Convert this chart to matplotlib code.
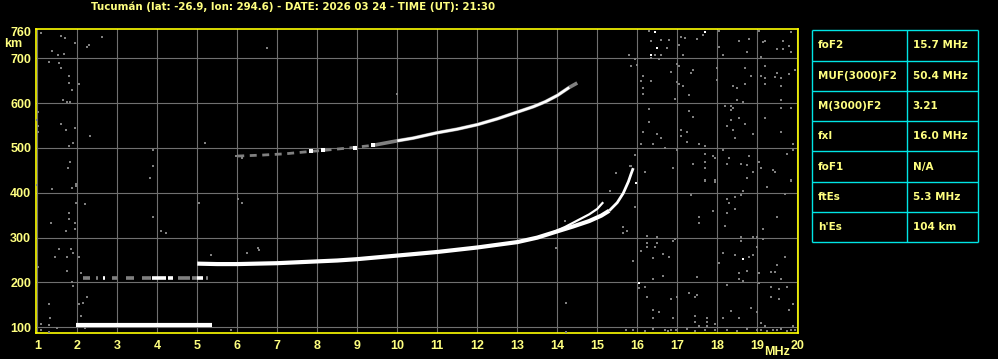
import matplotlib
matplotlib.use("Agg")
import matplotlib.pyplot as plt
from matplotlib.transforms import blended_transform_factory

title = "Tucumán (lat: -26.9, lon: 294.6) - DATE: 2026 03 24 - TIME (UT): 21:30"

freq_ticks = list(range(1, 21))
height_ticks = [100, 200, 300, 400, 500, 600, 700, 760]

# scaled parameters table
param_names = ["foF2", "MUF(3000)F2", "M(3000)F2", "fxI", "foF1", "ftEs", "h'Es"]
param_values = ["15.7 MHz", "50.4 MHz", "3.21", "16.0 MHz", "N/A", "5.3 MHz", "104 km"]

# sporadic E trace (MHz, km)
es_f = [1.97, 5.36]
es_km = [104.5, 104.5]

# second hop Es, broken trace at ~210 km
es2_km = 210
es2_gray_start = [2.14, 2.47, 2.87, 3.22, 3.62, 4.52, 4.87, 5.22]
es2_gray_end = [2.32, 2.52, 2.99, 3.42, 3.84, 4.82, 4.99, 5.27]
es2_white_start = [2.64, 3.87, 4.27, 4.99]
es2_white_end = [2.70, 4.22, 4.39, 5.14]

# F2 trace, main branch
f2_f = [5.0, 5.5, 6.0, 6.5, 7.0, 7.5, 8.0, 8.5, 9.0, 9.5, 10.0, 10.5, 11.0, 11.5,
        12.0, 12.5, 13.0, 13.5, 14.0, 14.4, 14.8, 15.1, 15.3]
f2_km = [242, 241, 241, 242, 243, 245, 247, 249, 252, 256, 260, 264, 268, 273,
         278, 284, 290, 300, 314, 325, 337, 349, 360]
cusp_f = [15.3, 15.5, 15.65, 15.78, 15.85, 15.9]
cusp_km = [360, 378, 399, 425, 443, 455]

# F2 trace, second branch
fb_f = [13.9, 14.2, 14.5, 14.8, 15.0, 15.15]
fb_km = [312, 324, 338, 352, 364, 379]

# second hop F trace
f2f_f = [6.0, 6.6, 7.2, 7.8, 8.2, 8.9, 9.4, 10.0, 10.4, 11.0, 11.5, 12.0, 12.5,
         13.0, 13.4, 13.7, 14.0, 14.3, 14.5]
f2f_km = [482, 484, 487, 492, 495, 501, 506, 516, 522, 534, 542, 552, 565,
          580, 592, 603, 617, 635, 645]
f2f_spot_f = [7.85, 8.15, 8.95, 9.4]
f2f_spot_km = [493, 495, 501, 507]

# scattered weak echoes (gray)
noise_f = [1.09, 1.59, 1.69, 1.94, 2.63, 2.29, 2.24, 1.38, 1.51, 1.67, 1.29, 1.54, 1.59, 1.79,
           1.79, 2.04, 1.88, 1.64, 1.74, 1.83, 1.03, 0.97, 1.03, 1.03, 1.59, 1.73, 1.94, 2.33,
           5.19, 1.79, 1.89, 3.89, 5.98, 6.12, 1.83, 1.78, 3.89, 3.83, 1.98,
           0.98, 1.38, 1.88, 1.98, 2.19, 1.98, 1.79, 1.34, 1.79, 1.94, 1.94, 1.73, 3.89, 4.22,
           4.09, 1.54, 1.84, 1.89, 1.44, 1.74, 2.04, 1.03, 1.74, 2.09, 5.34, 6.24, 5.04, 6.03,
           6.13, 1.88, 1.89, 2.24, 2.14, 2.04, 1.29, 2.09, 1.32, 1.09, 1.29, 1.09, 1.29, 1.49,
           2.19, 5.84, 6.74, 9.99, 6.52, 6.54, 13.97, 14.19, 14.23, 14.23,
           16.29, 18.04, 19.04, 19.84, 16.34, 16.59, 16.79, 17.09, 17.19, 17.49, 17.64, 16.74,
           17.04, 15.79, 16.44, 16.59, 17.14, 18.04, 18.14, 18.54, 18.74, 18.79, 19.14, 19.19,
           19.49, 19.64, 19.64, 19.79, 19.84, 19.09, 15.94, 15.99, 15.84, 16.34, 16.54, 16.99,
           17.04, 16.84, 17.34, 17.39, 17.99, 18.69, 19.19, 19.94, 16.14, 16.34, 16.09, 16.14,
           16.14, 16.99, 17.04, 17.14, 17.29, 16.94, 17.99, 18.39, 18.49, 18.69, 18.84, 19.09,
           19.19, 19.19, 19.49, 19.44, 19.59, 19.59, 19.79, 18.49, 18.64, 19.59, 16.29, 17.29,
           17.39, 18.19, 18.34, 18.39, 18.34, 18.54, 18.69, 18.34, 18.24, 18.39, 18.44, 18.89,
           19.19, 19.59, 19.84, 19.59, 19.89, 19.89, 16.29, 16.14, 16.49, 16.59, 16.39, 16.09,
           17.09, 17.24, 17.09, 17.24, 17.54, 17.69, 16.69, 15.94, 16.99, 17.69, 17.89, 17.94,
           18.14, 18.29, 18.79, 19.04, 19.09, 19.74, 17.69, 17.39, 16.89, 17.69, 18.24, 18.59,
           18.74, 18.89, 19.39, 19.44, 18.74, 16.19, 15.84, 17.69, 17.94, 19.84,
           17.69, 17.94, 19.24, 19.84, 18.64, 18.59, 18.44, 18.24, 18.29, 18.44, 18.24, 17.89,
           19.69, 19.49, 17.34, 15.94, 17.54, 17.54, 18.19, 19.14, 15.64, 15.74, 15.64, 16.24,
           16.49, 16.89, 16.94, 16.24, 16.49, 16.24, 16.44, 16.09, 16.64, 16.39, 16.79, 15.89,
           18.14, 18.44, 18.59, 18.59, 18.89, 18.99, 19.14, 18.99, 18.89, 18.79, 18.04, 19.69,
           19.49, 19.44, 19.34, 18.74, 18.54, 19.04, 19.59, 18.54, 18.64, 19.04, 16.64, 16.39,
           17.49, 16.04, 16.19, 16.24, 18.24, 17.29, 17.49, 17.44, 16.84, 16.99, 19.34, 19.54,
           19.74, 19.34, 19.54, 16.39, 16.54, 16.39, 16.89, 17.44, 17.44, 17.54, 17.74, 17.74,
           17.74, 17.94, 18.14, 18.34, 18.54, 18.84, 18.99, 19.09, 19.19, 19.79, 19.89, 19.89,
           15.48, 15.33, 15.83, 15.94,
           15.72, 15.89, 16.19, 16.39, 16.69, 16.77, 16.84, 16.97, 17.24, 17.44, 17.69, 17.94,
           18.24, 18.49, 18.74, 18.99, 19.09, 19.24, 19.39, 19.49, 19.59, 19.74, 19.84, 19.94]
noise_km = [757, 750, 746, 735, 748, 730, 726, 717, 708, 710, 692, 690, 679, 661,
            646, 643, 630, 608, 603, 603, 581, 563, 550, 536, 554, 541, 545, 527,
            512, 505, 510, 496, 483, 478, 468, 456, 460, 434, 419,
            417, 408, 410, 415, 375, 378, 355, 333, 342, 333, 319, 315, 347, 311,
            315, 275, 275, 266, 257, 257, 257, 235, 226, 222, 261, 266, 378, 386,
            378, 200, 191, 168, 155, 153, 153, 126, 121, 108, 104, 95, 90, 99,
            99, 95, 724, 620, 277, 272, 277, 338, 154, 90,
            761, 761, 761, 759, 739, 741, 741, 747, 745, 743, 752, 724,
            730, 707, 707, 707, 707, 726, 707, 739, 715, 743, 736, 739,
            721, 721, 739, 728, 715, 702, 698, 685, 683, 700, 698, 687,
            683, 669, 667, 674, 678, 678, 683, 674, 661, 649, 649, 634,
            620, 647, 643, 638, 618, 609, 652, 638, 634, 643, 661, 661,
            656, 643, 668, 658, 656, 638, 665, 607, 603, 607, 587, 582,
            569, 594, 594, 589, 585, 567, 554, 562, 549, 540, 522, 531,
            567, 589, 589, 536, 509, 496, 558, 536, 531, 522, 509, 509,
            540, 536, 527, 513, 509, 504, 500, 484, 496, 487, 482, 478,
            496, 478, 482, 469, 455, 487, 469, 464, 455, 455, 464, 464,
            462, 446, 451, 446, 433, 446, 460, 429, 429, 429,
            426, 423, 414, 426, 404, 395, 391, 386, 377, 364, 355, 359,
            397, 346, 395, 368, 346, 333, 326, 319, 324, 315, 310, 304,
            301, 293, 297, 288, 288, 279, 279, 270, 263, 255, 257, 248,
            266, 261, 301, 293, 301, 301, 297, 279, 261, 257, 243, 257,
            239, 224, 224, 226, 221, 221, 208, 208, 203, 199, 214, 208,
            212, 187, 190, 168, 194, 177, 172, 168, 163, 168, 190, 186,
            190, 168, 163, 139, 134, 121, 121, 125, 112, 103, 121, 112,
            103, 107, 121, 136, 121, 143, 134, 110, 103, 139, 152, 103,
            445, 405, 460, 369,
            93, 95, 92, 96, 94, 92, 95, 93, 96, 92, 94, 93,
            95, 92, 96, 93, 94, 92, 95, 93, 96, 92, 94, 93]

# isolated strong echoes (white)
spot_f = [16.44, 17.69, 16.49, 16.34, 18.64, 16.04, 15.98]
spot_km = [759, 759, 724, 707, 252, 199, 422]

yellow = "#ffff00"
label_yellow = "#ffff80"
gray = "#808080"
grid_gray = "#707070"
tick_font = "Liberation Sans"
text_font = "DejaVu Sans"

fig = plt.figure(figsize=(9.98, 3.59), dpi=100, facecolor="black")
W, H = 998, 359
ax = fig.add_axes([35.7 / W, 1 - 333.3 / H, (798 - 35.7) / W, (333.3 - 29.3) / H])
ax.set_facecolor("black")
ax.set_xlim(0.96, 20.02)
ax.set_ylim(86.6, 764.7)

ax.set_xticks(freq_ticks)
ax.set_xticklabels([str(f) for f in freq_ticks])
ax.set_yticks(height_ticks)
ax.set_yticklabels([str(h) for h in height_ticks])
ax.tick_params(length=0, colors=label_yellow, labelsize=9)
ax.tick_params(axis="x", pad=4.5)
ax.tick_params(axis="y", pad=3.2)
for lab in ax.get_xticklabels() + ax.get_yticklabels():
    lab.set_fontfamily(tick_font)
    lab.set_fontweight("bold")
ax.grid(True, color=grid_gray, linewidth=0.8)
ax.get_ygridlines()[-1].set_visible(False)
for sp in ax.spines.values():
    sp.set_color(yellow)
    sp.set_linewidth(1.2)

# noise
ax.scatter(noise_f, noise_km, marker="s", s=3.2, color=gray, linewidths=0, zorder=3)
ax.scatter(spot_f, spot_km, marker="s", s=3.5, color="white", linewidths=0, zorder=4)

# Es
ax.plot(es_f, es_km, color="white", linewidth=3.0, solid_capstyle="butt", zorder=5)
ax.hlines([es2_km] * len(es2_gray_start), es2_gray_start, es2_gray_end, color=gray,
          linewidth=2.6, zorder=4)
ax.hlines([es2_km] * len(es2_white_start), es2_white_start, es2_white_end, color="white",
          linewidth=2.6, zorder=5)

# F traces
ax.plot(f2_f, f2_km, color="white", linewidth=3.0, solid_capstyle="butt", zorder=5)
ax.plot(cusp_f, cusp_km, color="white", linewidth=2.0, solid_capstyle="butt", zorder=5)
ax.plot(fb_f, fb_km, color="white", linewidth=1.6, solid_capstyle="butt", zorder=5)

# second hop F: dotted weak start, stronger upper part
ax.plot(f2f_f[:7], f2f_km[:7], color=gray, linewidth=2.0, dashes=(2.5, 2.0), zorder=4)
ax.plot(f2f_f[6:], f2f_km[6:], color=gray, linewidth=2.6, solid_capstyle="butt", zorder=4)
ax.plot(f2f_f[7:18], f2f_km[7:18], color="white", linewidth=1.9, solid_capstyle="butt", zorder=5)
ax.scatter(f2f_spot_f, f2f_spot_km, marker="s", s=6, color="white", linewidths=0, zorder=5)

# axis unit labels
ax.text(-0.029, 731, "km", transform=blended_transform_factory(ax.transAxes, ax.transData),
        color=label_yellow, fontsize=9, fontweight="bold", family=tick_font,
        ha="center", va="center", clip_on=False)
ax.text(19.49, -0.06, "MHz", transform=blended_transform_factory(ax.transData, ax.transAxes),
        color=label_yellow, fontsize=9, fontweight="bold", family=tick_font,
        ha="center", va="center", clip_on=False)

fig.text(91 / W, 1 - 6.8 / H, title, color=label_yellow, fontsize=7.4, fontweight="bold",
         family=text_font, ha="left", va="center")

# parameter table
tax = fig.add_axes([812 / W, 1 - 242.3 / H, 166 / W, 212 / H])
tax.set_xlim(0, 1)
tax.set_ylim(len(param_names), 0)
tax.axis("off")
tax.hlines(range(len(param_names) + 1), 0, 1, color="#00e5e5", linewidth=1.0, clip_on=False)
tax.vlines([0, 0.572, 1], 0, len(param_names), color="#00e5e5", linewidth=1.0, clip_on=False)
for i, (name, val) in enumerate(zip(param_names, param_values)):
    tax.text(0.036, i + 0.5, name, color=label_yellow, fontsize=7.5, fontweight="bold",
             family=text_font, ha="left", va="center")
    tax.text(0.607, i + 0.5, val, color=label_yellow, fontsize=7.5, fontweight="bold",
             family=text_font, ha="left", va="center")

fig.savefig("out.png", dpi=100, facecolor="black")
